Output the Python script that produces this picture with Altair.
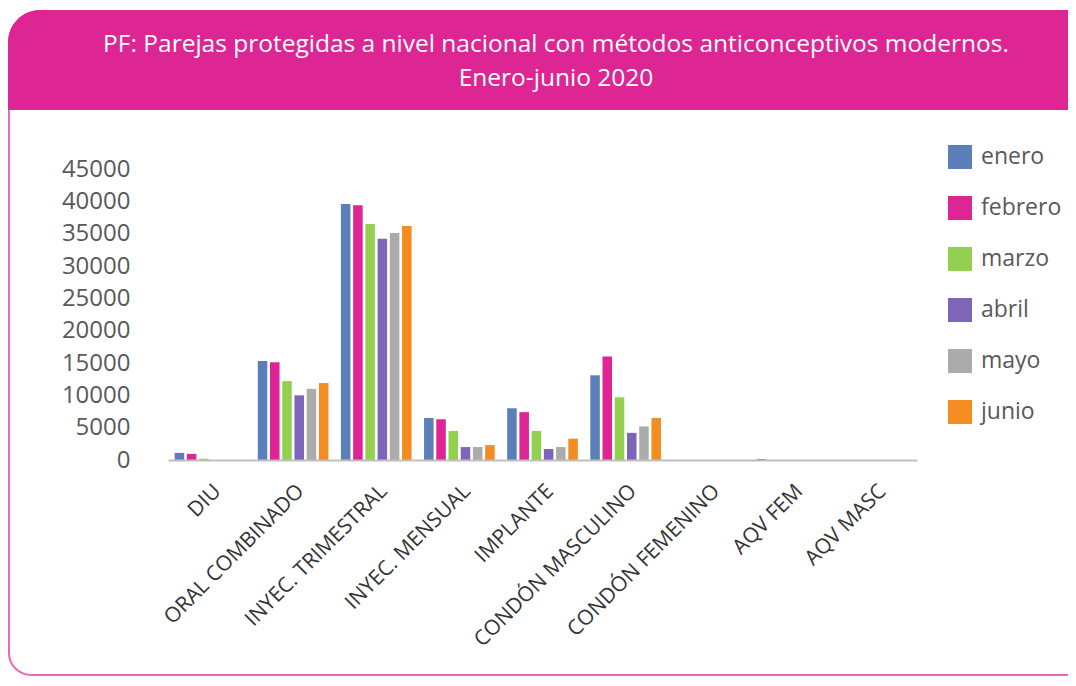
import altair as alt
import pandas as pd

categories = ["DIU", "ORAL COMBINADO", "INYEC. TRIMESTRAL", "INYEC. MENSUAL",
              "IMPLANTE", "CONDÓN MASCULINO", "CONDÓN FEMENINO", "AQV FEM", "AQV MASC"]
months = ["enero", "febrero", "marzo", "abril", "mayo", "junio"]
enero = [1100, 15300, 39600, 6500, 8000, 13100, 0, 150, 0]
febrero = [950, 15100, 39400, 6300, 7400, 16000, 0, 0, 0]
marzo = [200, 12200, 36500, 4500, 4500, 9700, 0, 0, 0]
abril = [0, 10000, 34200, 2000, 1700, 4200, 0, 0, 0]
mayo = [0, 11000, 35100, 2000, 2000, 5200, 0, 0, 0]
junio = [0, 11900, 36200, 2300, 3300, 6500, 0, 0, 0]
colors = ["#5B80B9", "#DD2594", "#93D04F", "#7E65B9", "#ABABAB", "#F58C21"]
y_ticks = [0, 5000, 10000, 15000, 20000, 25000, 30000, 35000, 40000, 45000]
title_lines = ["PF: Parejas protegidas a nivel nacional con métodos anticonceptivos modernos.",
               "Enero-junio 2020"]

series = [enero, febrero, marzo, abril, mayo, junio]
rows = []
for m, vals in zip(months, series):
    for c, v in zip(categories, vals):
        rows.append({"categoria": c, "mes": m, "valor": v})
df = pd.DataFrame(rows)

FONT = "Open Sans"
one = pd.DataFrame({"a": [0]})

card = alt.Chart(one).mark_rect(
    fill="white", stroke="#E76BB5", strokeWidth=2,
    cornerRadiusTopLeft=32, cornerRadiusTopRight=32,
    cornerRadiusBottomLeft=22, cornerRadiusBottomRight=22,
).encode(x=alt.value(-159), x2=alt.value(940), y=alt.value(-158), y2=alt.value(506))

banner = alt.Chart(one).mark_rect(
    fill="#DD2594",
    cornerRadiusTopLeft=32, cornerRadiusTopRight=32,
).encode(x=alt.value(-160), x2=alt.value(941), y=alt.value(-159), y2=alt.value(-59))

t1 = alt.Chart(pd.DataFrame({"t": [title_lines[0]]})).mark_text(
    font=FONT, fontSize=24.5, color="white", align="center", baseline="middle"
).encode(text="t:N", x=alt.value(388), y=alt.value(-124))
t2 = alt.Chart(pd.DataFrame({"t": [title_lines[1]]})).mark_text(
    font=FONT, fontSize=24.5, color="white", align="center", baseline="middle"
).encode(text="t:N", x=alt.value(388), y=alt.value(-90))

bars = alt.Chart(df).mark_bar().encode(
    x=alt.X("categoria:N", sort=categories,
            scale=alt.Scale(paddingInner=0.15, paddingOuter=0.08),
            axis=alt.Axis(title=None, labelAngle=-45, labelFontSize=21, labelFont=FONT,
                          labelColor="#333333", ticks=False, domainColor="#BFBFBF",
                          domainWidth=2, labelPadding=20, labelLimit=500, zindex=2)),
    xOffset=alt.XOffset("mes:N", sort=months, scale=alt.Scale(paddingInner=0.22)),
    y=alt.Y("valor:Q", scale=alt.Scale(domain=[0, 45000]),
            axis=alt.Axis(title=None, values=y_ticks, grid=False, domain=False, ticks=False,
                          format="d", labelFontSize=24, labelFont=FONT,
                          labelColor="#595959", labelPadding=38, zindex=2)),
    color=alt.Color("mes:N", sort=months,
                    scale=alt.Scale(domain=months, range=colors),
                    legend=alt.Legend(title=None, orient="none", legendX=780, legendY=-24,
                                      symbolType="square", symbolSize=576,
                                      symbolStrokeWidth=0, labelFontSize=23,
                                      labelFont=FONT, labelColor="#595959",
                                      rowPadding=27, labelOffset=9)),
)

chart = alt.layer(card, banner, t1, t2, bars).properties(
    width=749, height=291,
    padding={"left": 160, "top": 161, "right": 151, "bottom": 218},
    autosize=alt.AutoSizeParams(type="none"),
    background="white",
).configure_view(stroke=None)

chart.save("out.html", embed_options={"renderer": "svg", "actions": False})
